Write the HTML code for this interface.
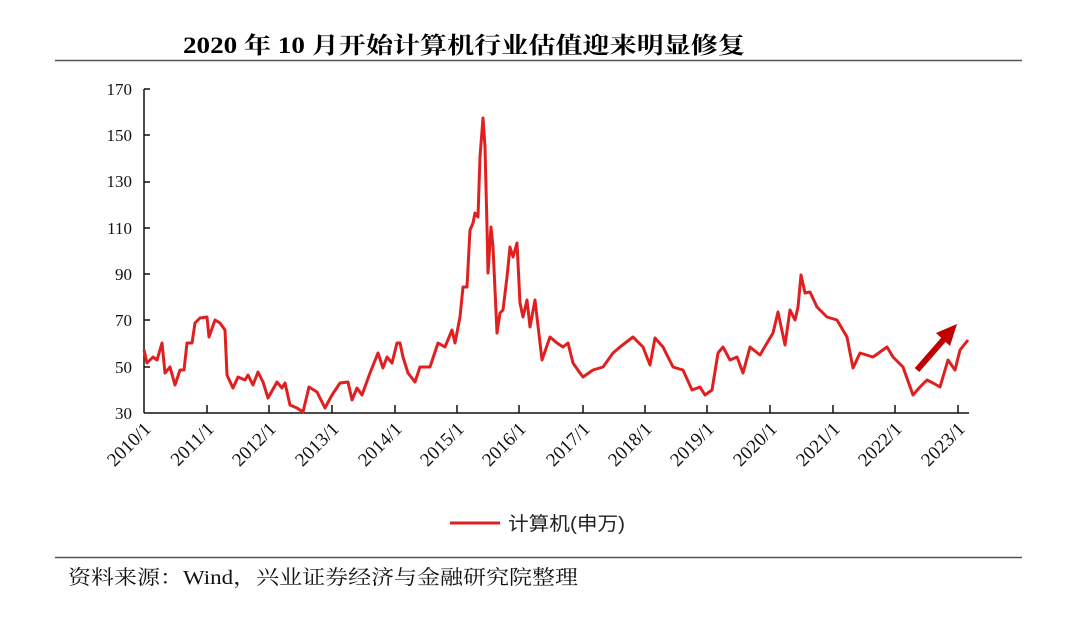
<!DOCTYPE html>
<html><head><meta charset="utf-8"><style>
body{margin:0;background:#fff;width:1076px;height:617px;overflow:hidden;}
svg{display:block}
</style></head><body>
<svg width="1076" height="617" xmlns="http://www.w3.org/2000/svg">
<text x="183" y="53" font-family="Liberation Serif, Noto Serif CJK SC, serif" font-weight="bold" font-size="23" textLength="562" lengthAdjust="spacingAndGlyphs">2020 年 10 月开始计算机行业估值迎来明显修复</text>
<line x1="55" y1="60.5" x2="1022" y2="60.5" stroke="#555" stroke-width="1.5"/>
<g font-family="Liberation Serif, serif" font-size="17" fill="#111" text-anchor="end">
<text x="132" y="95">170</text><text x="132" y="141">150</text><text x="132" y="187">130</text><text x="132" y="234">110</text><text x="132" y="280">90</text><text x="132" y="326">70</text><text x="132" y="373">50</text><text x="132" y="419">30</text>
</g>
<g stroke="#111" stroke-width="1.5">
<line x1="144" y1="89" x2="144" y2="413"/>
<line x1="144" y1="413" x2="969" y2="413"/>
<line x1="144" y1="89" x2="150" y2="89"/><line x1="144" y1="135" x2="150" y2="135"/><line x1="144" y1="182" x2="150" y2="182"/><line x1="144" y1="228" x2="150" y2="228"/><line x1="144" y1="274" x2="150" y2="274"/><line x1="144" y1="320" x2="150" y2="320"/><line x1="144" y1="367" x2="150" y2="367"/>
<line x1="207" y1="405" x2="207" y2="413"/><line x1="269" y1="405" x2="269" y2="413"/><line x1="332" y1="405" x2="332" y2="413"/><line x1="395" y1="405" x2="395" y2="413"/><line x1="457" y1="405" x2="457" y2="413"/><line x1="519" y1="405" x2="519" y2="413"/><line x1="583" y1="405" x2="583" y2="413"/><line x1="645" y1="405" x2="645" y2="413"/><line x1="707" y1="405" x2="707" y2="413"/><line x1="770" y1="405" x2="770" y2="413"/><line x1="833" y1="405" x2="833" y2="413"/><line x1="895" y1="405" x2="895" y2="413"/><line x1="958" y1="405" x2="958" y2="413"/>
</g>
<g font-family="Liberation Serif, serif" font-size="19" fill="#111" text-anchor="end">
<text transform="translate(152,430) rotate(-45)">2010/1</text>
<text transform="translate(215,430) rotate(-45)">2011/1</text>
<text transform="translate(277,430) rotate(-45)">2012/1</text>
<text transform="translate(340,430) rotate(-45)">2013/1</text>
<text transform="translate(403,430) rotate(-45)">2014/1</text>
<text transform="translate(465,430) rotate(-45)">2015/1</text>
<text transform="translate(527,430) rotate(-45)">2016/1</text>
<text transform="translate(591,430) rotate(-45)">2017/1</text>
<text transform="translate(653,430) rotate(-45)">2018/1</text>
<text transform="translate(715,430) rotate(-45)">2019/1</text>
<text transform="translate(778,430) rotate(-45)">2020/1</text>
<text transform="translate(841,430) rotate(-45)">2021/1</text>
<text transform="translate(903,430) rotate(-45)">2022/1</text>
<text transform="translate(966,430) rotate(-45)">2023/1</text>
</g>
<polyline fill="none" stroke="#e02020" stroke-width="3" stroke-linejoin="round" points="144,350 147,363 153,357 157,360 162,343 165,373 170,367 175,385 180,370 184,370 187,343 192,343 195,323 200,318 207,317 209,337 215,320 220,323 225,330 227,375 233,388 238,377 245,380 248,375 253,385 258,372 263,382 268,398 277,382 282,388 285,383 290,405 297,408 303,412 309,387 317,392 325,408 332,395 340,383 348,382 352,400 357,388 362,395 370,373 378,353 383,368 387,357 392,363 397,343 400,343 403,357 408,373 415,382 420,367 430,367 438,343 445,347 452,330 455,343 460,317 463,287 467,287 470,230 473,223 475,213 478,217 480,157 483,118 485,147 487,227 488,273 491,227 493,247 497,333 500,313 503,310 507,277 510,247 513,257 517,243 520,303 523,317 527,300 530,327 535,300 542,360 550,337 557,343 563,347 568,343 573,363 580,373 583,377 593,370 603,367 613,353 620,347 633,337 643,347 650,365 655,338 663,347 673,367 683,370 692,390 700,387 705,395 712,390 718,353 723,347 730,360 737,357 743,373 750,347 760,355 767,343 773,333 778,312 785,345 790,310 795,320 798,307 801,275 805,293 810,292 817,307 827,317 837,320 847,337 853,368 860,353 873,357 887,347 893,357 903,367 913,395 920,387 927,380 933,383 940,387 948,360 955,370 960,350 968,340"/>
<line x1="917" y1="370" x2="945" y2="338" stroke="#c00000" stroke-width="6"/>
<polygon points="957,324 936,333 950,346" fill="#c00000"/>
<line x1="450" y1="523" x2="500" y2="523" stroke="#e02020" stroke-width="3"/>
<text x="508" y="530" font-family="Liberation Sans, Noto Sans CJK SC, sans-serif" font-size="19" fill="#222" textLength="117" lengthAdjust="spacingAndGlyphs">计算机(申万)</text>
<line x1="55" y1="557.5" x2="1022" y2="557.5" stroke="#555" stroke-width="1.5"/>
<text x="68" y="584" font-family="Liberation Serif, Noto Serif CJK SC, serif" font-size="20" fill="#111" textLength="510" lengthAdjust="spacingAndGlyphs">资料来源：Wind，兴业证券经济与金融研究院整理</text>
</svg>
</body></html>
